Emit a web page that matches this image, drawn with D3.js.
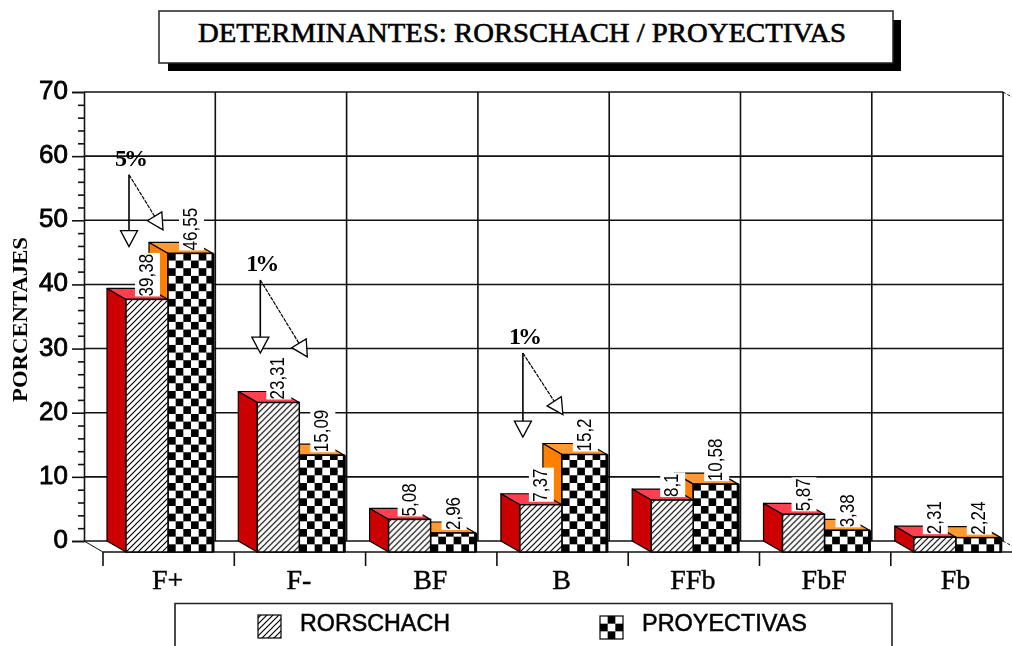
<!DOCTYPE html>
<html>
<head>
<meta charset="utf-8">
<script src="https://d3js.org/d3.v7.min.js"></script>
<style>
    html, body { margin: 0; padding: 0; background: #fff; }
    svg { display: block; filter: blur(0.5px); }
    .serif { font-family: "Liberation Serif", serif; fill: #000; }
    .sans { font-family: "Liberation Sans", sans-serif; fill: #000; }
</style>
</head>
<body>
<script>
    // values
    var categories = ["F+", "F-", "BF", "B", "FFb", "FbF", "Fb"];
    var rorschach = [39.38, 23.31, 5.08, 7.37, 8.1, 5.87, 2.31];
    var proyectivas = [46.55, 15.09, 2.96, 15.2, 10.58, 3.38, 2.24];
    var yTicks = [0, 10, 20, 30, 40, 50, 60, 70];
    var yMinorTicks = d3.range(0, 70, 2).filter(function(d) { return d % 10 !== 0; });

    // significance arrows
    var annLabels = ["5%", "1%", "1%"];
    var annCats = ["F+", "F-", "B"];
    var annTop = [57.1, 40.7, 29.3];
    var annVertTip = [45.9, 29.3, 16.2];
    var annDiagTip = [48.5, 28.7, 19.7];

    var width = 1012, height = 646;
    var depthX = 19, depthY = 11; // 3d offset of the front plane
    var wallLeft = 84, wallRight = 1003;

    var y = d3.scaleLinear().domain([0, 70]).range([541, 92]);
    var x = d3.scaleBand().domain(categories).range([103, 103 + 131.3 * 7]);

    var svg = d3.select("body").append("svg")
        .attr("width", width)
        .attr("height", height);

    var defs = svg.append("defs");

    var hatch = defs.append("pattern").attr("id", "hatch")
        .attr("patternUnits", "userSpaceOnUse")
        .attr("width", 6).attr("height", 6);
    hatch.append("rect").attr("width", 6).attr("height", 6).attr("fill", "#fff");
    hatch.append("path").attr("d", "M-1,1L1,-1M-1,7L7,-1M5,7L7,5")
        .attr("stroke", "#000").attr("stroke-width", 1.2);

    var check = defs.append("pattern").attr("id", "check")
        .attr("patternUnits", "userSpaceOnUse")
        .attr("width", 15.34).attr("height", 15.34);
    check.append("rect").attr("width", 15.34).attr("height", 15.34).attr("fill", "#fff");
    check.append("rect").attr("x", 7.67).attr("width", 7.67).attr("height", 7.67).attr("fill", "#000");
    check.append("rect").attr("y", 7.67).attr("width", 7.67).attr("height", 7.67).attr("fill", "#000");

    // title box with its shadow
    svg.append("rect").attr("x", 168).attr("y", 20).attr("width", 733).attr("height", 51).attr("fill", "#000");
    svg.append("rect").attr("x", 159).attr("y", 11).attr("width", 734).attr("height", 52)
        .attr("fill", "#fff").attr("stroke", "#222").attr("stroke-width", 1.5);
    svg.append("text").attr("class", "serif")
        .attr("x", 198).attr("y", 42)
        .attr("textLength", 648).attr("lengthAdjust", "spacingAndGlyphs")
        .style("font-size", "27px")
        .style("stroke", "#000").style("stroke-width", 0.6)
        .text("DETERMINANTES: RORSCHACH / PROYECTIVAS");

    // back wall grid
    var grid = svg.append("g").attr("stroke", "#111").attr("stroke-width", 1.6);
    yTicks.slice(1).forEach(function(t) {
        grid.append("line").attr("x1", wallLeft).attr("x2", wallRight).attr("y1", y(t)).attr("y2", y(t));
    });
    categories.forEach(function(c) {
        var gx = x(c) - depthX + x.bandwidth();
        grid.append("line").attr("x1", gx).attr("x2", gx).attr("y1", y(70)).attr("y2", y(0));
    });

    // floor
    grid.append("line").attr("x1", wallLeft).attr("x2", wallRight).attr("y1", y(0)).attr("y2", y(0));
    grid.append("line").attr("x1", 103).attr("x2", width).attr("y1", y(0) + depthY).attr("y2", y(0) + depthY);
    grid.append("line").attr("x1", wallLeft).attr("x2", 103).attr("y1", y(0)).attr("y2", y(0) + depthY).attr("stroke-width", 1);
    [y(0), y(70)].forEach(function(py) {
        grid.append("line").attr("x1", wallRight).attr("x2", width).attr("y1", py).attr("y2", py + 5)
            .attr("stroke-width", 1).attr("stroke-dasharray", "3,2");
    });
    categories.forEach(function(c) {
        grid.append("line").attr("x1", x(c)).attr("x2", x(c)).attr("y1", y(0) + depthY).attr("y2", y(0) + depthY + 14);
    });

    // y axis
    var minorAxis = d3.axisLeft(y).tickValues(yMinorTicks).tickSize(6).tickFormat("");
    var majorAxis = d3.axisLeft(y).tickValues(yTicks).tickSize(12).tickPadding(4);

    svg.append("g").attr("transform", "translate(" + wallLeft + ",0)").call(minorAxis)
        .call(function(g) { g.select(".domain").remove(); })
        .selectAll("line").attr("stroke", "#111").attr("stroke-width", 1.6);
    var axisG = svg.append("g").attr("transform", "translate(" + wallLeft + ",0)").call(majorAxis);
    axisG.select(".domain").attr("stroke", "#111").attr("stroke-width", 1.6);
    axisG.selectAll("line").attr("stroke", "#111").attr("stroke-width", 1.6);
    axisG.selectAll("text").attr("class", "sans")
        .attr("dy", "0.25em")
        .style("font-size", "26px")
        .style("stroke", "#000").style("stroke-width", 0.8);

    svg.append("text").attr("class", "serif")
        .attr("transform", "translate(27,402) rotate(-90)")
        .attr("textLength", 165).attr("lengthAdjust", "spacingAndGlyphs")
        .style("font-size", "20px").style("font-weight", "bold")
        .text("PORCENTAJES");

    function poly(g, pts, fill) {
        g.append("polygon").attr("points", pts.map(function(p) { return p.join(","); }).join(" "))
            .attr("fill", fill).attr("stroke", "#000").attr("stroke-width", 1.2).attr("stroke-linejoin", "round");
    }

    // one 3d column: side, top, then patterned front
    function column(left, right, value, sideColor, topColor, patternId, edge) {
        var top = y(value) + depthY, bottom = y(0) + depthY;
        var g = svg.append("g");
        poly(g, [[left - depthX, top - depthY], [left, top], [right, top], [right - depthX, top - depthY]], topColor);
        poly(g, [[left - depthX, top - depthY], [left, top], [left, bottom], [left - depthX, bottom - depthY]], sideColor);
        var front = g.append("g").attr("transform", "translate(" + left + "," + bottom + ")");
        front.append("rect")
            .attr("x", 0).attr("y", top - bottom)
            .attr("width", right - left).attr("height", bottom - top)
            .attr("fill", "url(#" + patternId + ")")
            .attr("stroke", "#000").attr("stroke-width", 1.5);
        if (edge) {
            front.append("line").attr("x1", right - left).attr("x2", right - left)
                .attr("y1", top - bottom).attr("y2", 0)
                .attr("stroke", "#000").attr("stroke-width", 3);
        }
    }

    categories.forEach(function(c, i) {
        var x0 = x(c);
        column(x0 + 65, x0 + 110, proyectivas[i], "#ff8000", "#ff9a33", "check", true);
        column(x0 + 23, x0 + 65, rorschach[i], "#cc0000", "#ff4050", "hatch", false);
    });

    // rotated value labels sit on a white plate
    function valueLabel(cx, value) {
        var top = y(value) + depthY - 3;
        var g = svg.append("g").attr("transform", "translate(" + (cx + 6) + "," + top + ") rotate(-90)");
        var label = g.append("text").attr("class", "sans")
            .attr("transform", "scale(1,1.15)")
            .style("font-size", "17px")
            .text(String(value).replace(".", ","));
        var len = label.node().getComputedTextLength();
        g.insert("rect", "text").attr("x", 0).attr("y", -18).attr("width", len + 1).attr("height", 25).attr("fill", "#fff");
    }

    categories.forEach(function(c, i) {
        var x0 = x(c);
        valueLabel(x0 + 44, rorschach[i]);
        valueLabel(x0 + 88, proyectivas[i]);
    });

    // category labels
    svg.append("g").selectAll("text").data(categories).enter().append("text")
        .attr("class", "serif")
        .attr("x", function(d) { return x(d) + x.bandwidth() / 2 - 1; })
        .attr("y", 589)
        .attr("text-anchor", "middle")
        .style("font-size", "28px")
        .style("stroke", "#000").style("stroke-width", 0.4)
        .text(function(d) { return d; });

    // significance arrows
    function arrow(x1, y1, x2, y2, sw, dash) {
        var a = Math.atan2(y2 - y1, x2 - x1), len = 16, half = 8.5;
        var bx = x2 - len * Math.cos(a), by = y2 - len * Math.sin(a);
        var nx = -Math.sin(a) * half, ny = Math.cos(a) * half;
        svg.append("line").attr("x1", x1).attr("y1", y1).attr("x2", bx).attr("y2", by)
            .attr("stroke", "#000").attr("stroke-width", sw).attr("stroke-dasharray", dash);
        svg.append("polygon")
            .attr("points", [[x2, y2], [bx + nx, by + ny], [bx - nx, by - ny]].map(function(p) { return p.join(","); }).join(" "))
            .attr("fill", "#fff").attr("stroke", "#000").attr("stroke-width", 1.3);
    }

    var annDiagOffset = [60, 73, 66];
    annLabels.forEach(function(label, i) {
        var ax = x(annCats[i]) + 26;
        var topY = y(annTop[i]);
        arrow(ax, topY, ax, y(annVertTip[i]), 1.6, null);
        arrow(ax, topY, x(annCats[i]) + annDiagOffset[i], y(annDiagTip[i]), 1.2, "4,1");
        svg.append("text").attr("class", "serif")
            .attr("x", ax + 1).attr("y", topY - 9)
            .attr("text-anchor", "middle")
            .style("font-size", "24px").style("font-weight", "bold").style("letter-spacing", "-3px")
            .text(label);
    });

    // legend, open at the bottom of the picture
    svg.append("path").attr("d", "M175,650V603.5H892V650")
        .attr("fill", "none").attr("stroke", "#222").attr("stroke-width", 1.6);
    svg.append("rect").attr("x", 258).attr("y", 615).attr("width", 23).attr("height", 23)
        .attr("fill", "url(#hatch)").attr("stroke", "#000").attr("stroke-width", 1.2);
    svg.append("g").attr("transform", "translate(600,616)").append("rect")
        .attr("width", 23).attr("height", 23)
        .attr("fill", "url(#check)").attr("stroke", "#000").attr("stroke-width", 1.2);
    svg.append("text").attr("class", "sans").attr("x", 300).attr("y", 631)
        .attr("textLength", 150).attr("lengthAdjust", "spacingAndGlyphs")
        .style("font-size", "23px")
        .style("stroke", "#000").style("stroke-width", 0.5)
        .text("RORSCHACH");
    svg.append("text").attr("class", "sans").attr("x", 642).attr("y", 631)
        .attr("textLength", 165).attr("lengthAdjust", "spacingAndGlyphs")
        .style("font-size", "23px")
        .style("stroke", "#000").style("stroke-width", 0.5)
        .text("PROYECTIVAS");
</script>
</body>
</html>
